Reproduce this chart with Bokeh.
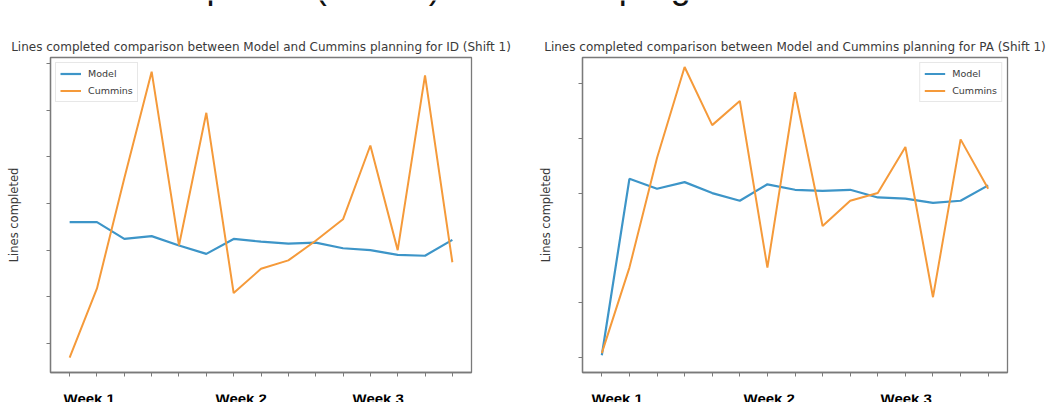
from bokeh.plotting import figure
from bokeh.models import Range1d, FixedTicker, CustomJSTickFormatter
from bokeh.layouts import column, row
from bokeh.embed import file_html
from bokeh.resources import INLINE
from bokeh.core.properties import value

# ---------------- data ----------------
days = list(range(15))

id_model = [230, 230, 212, 215, 205, 196, 212, 209, 207, 208, 202, 200, 195, 194, 211]
id_cummins = [85, 159, 277, 391, 205, 347, 154, 180, 189, 210, 233, 312, 200, 387, 187]
id_yticks = [100, 150, 200, 250, 300, 350, 400]

pa_model = [2, 163, 154, 160, 150, 143, 158, 153, 152, 153, 146, 145, 141, 143, 157]
pa_cummins = [4, 82, 182, 265, 212, 234, 82, 242, 120, 143, 150, 192, 55, 199, 154]
pa_yticks = [0, 50, 100, 150, 200, 250]

series_names = ["Model", "Cummins"]
week_labels = ["Week 1", "Week 2", "Week 3"]
chart_titles = [
    "Lines completed comparison between Model and Cummins planning for ID (Shift 1)",
    "Lines completed comparison between Model and Cummins planning for PA (Shift 1)",
]
y_label = "Lines completed"
header = "Lines Completed (Shift 1) - Model in progress"

BLUE = "#3d95c8"
ORANGE = "#f59a3a"
FRAME = "#7a7a7a"


def make_chart(title, model, cummins, yticks, yr, bl, br, legend_loc):
    p = figure(width=529, height=372,
               x_range=Range1d(-0.7, 14.7), y_range=Range1d(*yr),
               output_backend="svg", toolbar_location=None,
               title=title,
               min_border_left=bl, min_border_right=br,
               min_border_top=37, min_border_bottom=20)
    p.background_fill_color = "white"
    p.border_fill_color = "white"
    p.outline_line_color = FRAME
    p.outline_line_width = 1.3
    p.grid.visible = False

    p.line(days, model, color=BLUE, line_width=2.2, legend_label=series_names[0])
    p.line(days, cummins, color=ORANGE, line_width=2.0, legend_label=series_names[1])

    p.title.text_font = "DejaVu Sans"
    p.title.text_font_size = "12px"
    p.title.text_font_style = "normal"
    p.title.text_color = "#3a3a3a"
    p.title.align = "center"
    p.title.standoff = 8

    blank = CustomJSTickFormatter(code="return ''")
    for ax in (p.xaxis[0], p.yaxis[0]):
        ax.formatter = blank
        ax.major_tick_out = 4
        ax.major_tick_in = 0
        ax.minor_tick_line_color = None
        ax.axis_line_color = FRAME
        ax.axis_line_width = 1.3
        ax.major_tick_line_color = FRAME
        ax.major_label_standoff = 0
    p.xaxis.ticker = FixedTicker(ticks=days)
    p.yaxis.ticker = FixedTicker(ticks=yticks)
    p.yaxis.axis_label = y_label
    p.yaxis.axis_label_text_font = "DejaVu Sans"
    p.yaxis.axis_label_text_font_size = "11.5px"
    p.yaxis.axis_label_text_font_style = "normal"
    p.yaxis.axis_label_text_color = "#3a3a3a"
    p.yaxis.axis_label_standoff = 26

    lg = p.legend[0]
    lg.location = legend_loc
    lg.margin = 5
    lg.padding = 4
    lg.spacing = 4
    lg.glyph_width = 21
    lg.glyph_height = 13
    lg.label_height = 13
    lg.label_standoff = 7
    lg.label_text_font = "DejaVu Sans"
    lg.label_text_font_size = "9.5px"
    lg.label_text_color = "#3a3a3a"
    lg.border_line_color = "#d0d0d0"
    lg.background_fill_alpha = 0.85
    return p


left = make_chart(chart_titles[0], id_model, id_cummins, id_yticks,
                  (69.0, 406.2), 50, 58, "top_left")
right = make_chart(chart_titles[1], pa_model, pa_cummins, pa_yticks,
                   (-13.7, 273.7), 53, 51, "top_right")

# header strip (large slide title, mostly cut off at the top)
top = figure(width=1058, height=20, x_range=Range1d(0, 1058), y_range=Range1d(20, 0),
             output_backend="svg", toolbar_location=None, min_border=0,
             x_axis_type=None, y_axis_type=None, title=None)
top.outline_line_color = None
top.border_fill_color = "white"
top.text(x=[34], y=[-15], text=[header], text_font=value("Liberation Sans"),
         text_font_size="36px", text_baseline="alphabetic", text_align="left",
         text_color="#111111")

# footer strip (week labels, cut off at the bottom)
bottom = figure(width=1058, height=10, x_range=Range1d(0, 1058), y_range=Range1d(10, 0),
                output_backend="svg", toolbar_location=None, min_border=0,
                x_axis_type=None, y_axis_type=None, title=None)
bottom.outline_line_color = None
bottom.border_fill_color = "white"
week_x = [63, 215, 352, 591, 743, 880]
bottom.text(x=week_x, y=[4] * 6, text=week_labels * 2,
            text_font=value("Liberation Sans"), text_font_size="15px",
            text_font_style="bold", text_baseline="alphabetic", text_align="left",
            text_color="#000000")

layout = column(top, row(left, right, spacing=0), bottom, spacing=0)
open("out.html", "w").write(file_html(layout, INLINE))
